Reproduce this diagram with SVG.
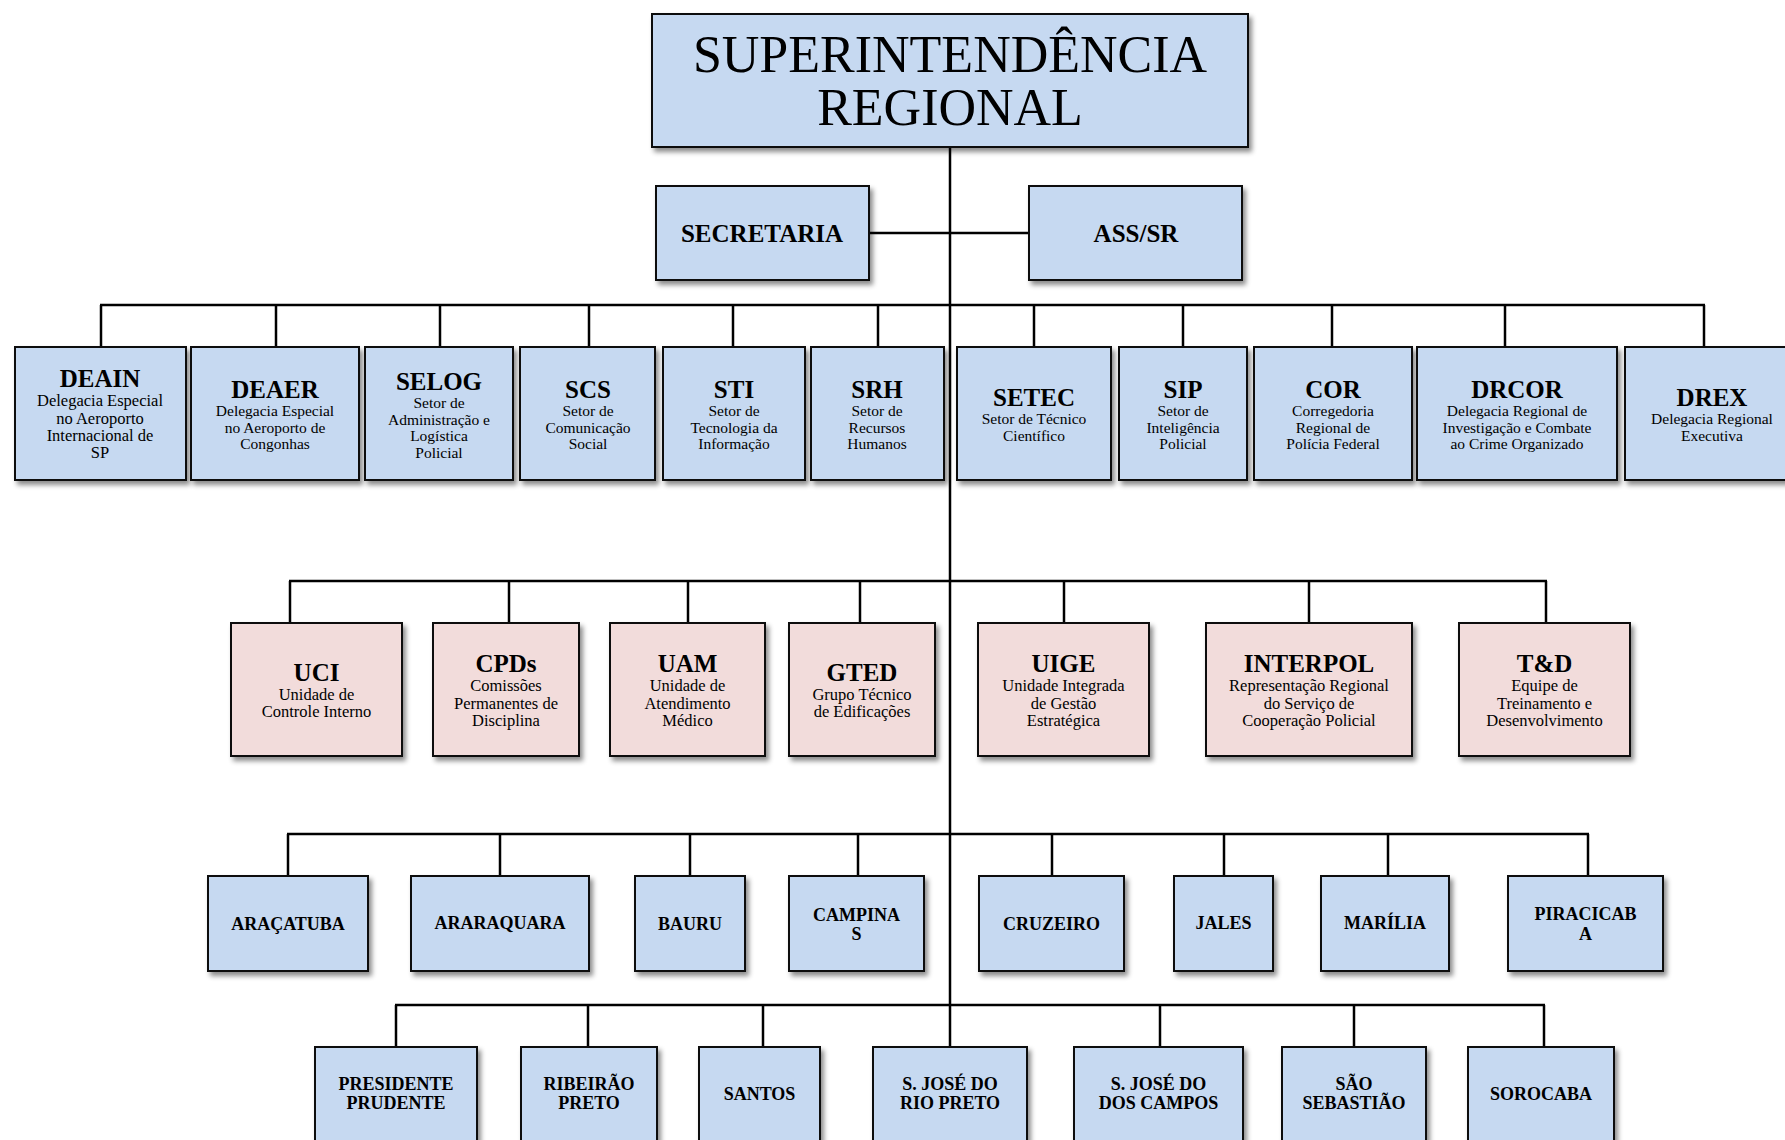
<svg xmlns="http://www.w3.org/2000/svg" width="1785" height="1140" viewBox="0 0 1785 1140">
<defs>
<filter id="sh" x="-10%" y="-10%" width="130%" height="130%">
<feDropShadow dx="3" dy="4" stdDeviation="2.5" flood-color="#000" flood-opacity="0.45"/>
</filter>
</defs>
<style>
text{font-family:"Liberation Serif","Times New Roman",serif;fill:#000;text-anchor:middle}
.b{fill:#C6D9F1;stroke:#111;stroke-width:2;filter:url(#sh)}
.p{fill:#F2DCDB;stroke:#111;stroke-width:2;filter:url(#sh)}
.t{font-weight:bold;font-size:25px}
.s{font-size:15.5px}
.s2{font-size:16.5px}
.c{font-weight:bold;font-size:18px}
.big{font-size:52px}
.con line{stroke:#000;stroke-width:2.5}
</style>
<rect width="1785" height="1140" fill="#fff"/>
<g class="con">
<line x1="950" y1="147" x2="950" y2="1047"/>
<line x1="869" y1="233" x2="1029" y2="233"/>
<line x1="100" y1="305" x2="1705" y2="305"/>
<line x1="101" y1="305" x2="101" y2="347"/>
<line x1="276" y1="305" x2="276" y2="347"/>
<line x1="440" y1="305" x2="440" y2="347"/>
<line x1="589" y1="305" x2="589" y2="347"/>
<line x1="733" y1="305" x2="733" y2="347"/>
<line x1="878" y1="305" x2="878" y2="347"/>
<line x1="1034" y1="305" x2="1034" y2="347"/>
<line x1="1183" y1="305" x2="1183" y2="347"/>
<line x1="1332" y1="305" x2="1332" y2="347"/>
<line x1="1505" y1="305" x2="1505" y2="347"/>
<line x1="1704" y1="305" x2="1704" y2="347"/>
<line x1="289" y1="581" x2="1547" y2="581"/>
<line x1="290" y1="581" x2="290" y2="623"/>
<line x1="509" y1="581" x2="509" y2="623"/>
<line x1="688" y1="581" x2="688" y2="623"/>
<line x1="860" y1="581" x2="860" y2="623"/>
<line x1="1064" y1="581" x2="1064" y2="623"/>
<line x1="1309" y1="581" x2="1309" y2="623"/>
<line x1="1546" y1="581" x2="1546" y2="623"/>
<line x1="287" y1="834" x2="1589" y2="834"/>
<line x1="288" y1="834" x2="288" y2="876"/>
<line x1="500" y1="834" x2="500" y2="876"/>
<line x1="690" y1="834" x2="690" y2="876"/>
<line x1="858" y1="834" x2="858" y2="876"/>
<line x1="1052" y1="834" x2="1052" y2="876"/>
<line x1="1224" y1="834" x2="1224" y2="876"/>
<line x1="1388" y1="834" x2="1388" y2="876"/>
<line x1="1588" y1="834" x2="1588" y2="876"/>
<line x1="395" y1="1005" x2="1545" y2="1005"/>
<line x1="396" y1="1005" x2="396" y2="1047"/>
<line x1="588" y1="1005" x2="588" y2="1047"/>
<line x1="763" y1="1005" x2="763" y2="1047"/>
<line x1="1160" y1="1005" x2="1160" y2="1047"/>
<line x1="1354" y1="1005" x2="1354" y2="1047"/>
<line x1="1544" y1="1005" x2="1544" y2="1047"/>
</g>

<g id="sr"><rect class="b" x="652" y="14" width="596" height="133"/>
<text class="big" x="950" y="72">SUPERINTENDÊNCIA</text><text class="big" x="950" y="125">REGIONAL</text></g>
<g id="secretaria"><rect class="b" x="656" y="186" width="213" height="94"/><text class="t" x="762" y="242">SECRETARIA</text></g>
<g id="asssr"><rect class="b" x="1029" y="186" width="213" height="94"/><text class="t" x="1136" y="242">ASS/SR</text></g>

<g id="deain"><rect class="b" x="15" y="347" width="171" height="133"/>
<text class="t" x="100" y="387">DEAIN</text>
<text class="s2" x="100" y="406">Delegacia Especial</text><text class="s2" x="100" y="423.5">no Aeroporto</text><text class="s2" x="100" y="441">Internacional de</text><text class="s2" x="100" y="458">SP</text></g>
<g id="deaer"><rect class="b" x="191" y="347" width="168" height="133"/>
<text class="t" x="275" y="398">DEAER</text>
<text class="s" x="275" y="416">Delegacia Especial</text><text class="s" x="275" y="432.5">no Aeroporto de</text><text class="s" x="275" y="449">Congonhas</text></g>
<g id="selog"><rect class="b" x="365" y="347" width="148" height="133"/>
<text class="t" x="439" y="390">SELOG</text>
<text class="s" x="439" y="408">Setor de</text><text class="s" x="439" y="424.5">Administração e</text><text class="s" x="439" y="441">Logística</text><text class="s" x="439" y="457.5">Policial</text></g>
<g id="scs"><rect class="b" x="520" y="347" width="135" height="133"/>
<text class="t" x="588" y="398">SCS</text>
<text class="s" x="588" y="416">Setor de</text><text class="s" x="588" y="432.5">Comunicação</text><text class="s" x="588" y="449">Social</text></g>
<g id="sti"><rect class="b" x="663" y="347" width="142" height="133"/>
<text class="t" x="734" y="398">STI</text>
<text class="s" x="734" y="416">Setor de</text><text class="s" x="734" y="432.5">Tecnologia da</text><text class="s" x="734" y="449">Informação</text></g>
<g id="srh"><rect class="b" x="811" y="347" width="133" height="133"/>
<text class="t" x="877" y="398">SRH</text>
<text class="s" x="877" y="416">Setor de</text><text class="s" x="877" y="432.5">Recursos</text><text class="s" x="877" y="449">Humanos</text></g>
<g id="setec"><rect class="b" x="957" y="347" width="154" height="133"/>
<text class="t" x="1034" y="406">SETEC</text>
<text class="s" x="1034" y="424">Setor de Técnico</text><text class="s" x="1034" y="440.5">Científico</text></g>
<g id="sip"><rect class="b" x="1119" y="347" width="128" height="133"/>
<text class="t" x="1183" y="398">SIP</text>
<text class="s" x="1183" y="416">Setor de</text><text class="s" x="1183" y="432.5">Inteligência</text><text class="s" x="1183" y="449">Policial</text></g>
<g id="cor"><rect class="b" x="1254" y="347" width="158" height="133"/>
<text class="t" x="1333" y="398">COR</text>
<text class="s" x="1333" y="416">Corregedoria</text><text class="s" x="1333" y="432.5">Regional de</text><text class="s" x="1333" y="449">Polícia Federal</text></g>
<g id="drcor"><rect class="b" x="1417" y="347" width="200" height="133"/>
<text class="t" x="1517" y="398">DRCOR</text>
<text class="s" x="1517" y="416">Delegacia Regional de</text><text class="s" x="1517" y="432.5">Investigação e Combate</text><text class="s" x="1517" y="449">ao Crime Organizado</text></g>
<g id="drex"><rect class="b" x="1625" y="347" width="175" height="133"/>
<text class="t" x="1712" y="406">DREX</text>
<text class="s" x="1712" y="424">Delegacia Regional</text><text class="s" x="1712" y="440.5">Executiva</text></g>

<g id="uci"><rect class="p" x="231" y="623" width="171" height="133"/>
<text class="t" x="316.5" y="681">UCI</text>
<text class="s2" x="316.5" y="700">Unidade de</text><text class="s2" x="316.5" y="717">Controle Interno</text></g>
<g id="cpds"><rect class="p" x="433" y="623" width="146" height="133"/>
<text class="t" x="506" y="672">CPDs</text>
<text class="s2" x="506" y="691">Comissões</text><text class="s2" x="506" y="708.5">Permanentes de</text><text class="s2" x="506" y="726">Disciplina</text></g>
<g id="uam"><rect class="p" x="610" y="623" width="155" height="133"/>
<text class="t" x="687.5" y="672">UAM</text>
<text class="s2" x="687.5" y="691">Unidade de</text><text class="s2" x="687.5" y="708.5">Atendimento</text><text class="s2" x="687.5" y="726">Médico</text></g>
<g id="gted"><rect class="p" x="789" y="623" width="146" height="133"/>
<text class="t" x="862" y="681">GTED</text>
<text class="s2" x="862" y="700">Grupo Técnico</text><text class="s2" x="862" y="717">de Edificações</text></g>
<g id="uige"><rect class="p" x="978" y="623" width="171" height="133"/>
<text class="t" x="1063.5" y="672">UIGE</text>
<text class="s2" x="1063.5" y="691">Unidade Integrada</text><text class="s2" x="1063.5" y="708.5">de Gestão</text><text class="s2" x="1063.5" y="726">Estratégica</text></g>
<g id="interpol"><rect class="p" x="1206" y="623" width="206" height="133"/>
<text class="t" x="1309" y="672">INTERPOL</text>
<text class="s2" x="1309" y="691">Representação Regional</text><text class="s2" x="1309" y="708.5">do Serviço de</text><text class="s2" x="1309" y="726">Cooperação Policial</text></g>
<g id="td"><rect class="p" x="1459" y="623" width="171" height="133"/>
<text class="t" x="1544.5" y="672">T&amp;D</text>
<text class="s2" x="1544.5" y="691">Equipe de</text><text class="s2" x="1544.5" y="708.5">Treinamento e</text><text class="s2" x="1544.5" y="726">Desenvolvimento</text></g>

<g id="aracatuba"><rect class="b" x="208" y="876" width="160" height="95"/><text class="c" x="288" y="930">ARAÇATUBA</text></g>
<g id="araraquara"><rect class="b" x="411" y="876" width="178" height="95"/><text class="c" x="500" y="929">ARARAQUARA</text></g>
<g id="bauru"><rect class="b" x="635" y="876" width="110" height="95"/><text class="c" x="690" y="930">BAURU</text></g>
<g id="campinas"><rect class="b" x="789" y="876" width="135" height="95"/><text class="c" x="856.5" y="921">CAMPINA</text><text class="c" x="856.5" y="940">S</text></g>
<g id="cruzeiro"><rect class="b" x="979" y="876" width="145" height="95"/><text class="c" x="1051.5" y="930">CRUZEIRO</text></g>
<g id="jales"><rect class="b" x="1174" y="876" width="99" height="95"/><text class="c" x="1223.5" y="929">JALES</text></g>
<g id="marilia"><rect class="b" x="1321" y="876" width="128" height="95"/><text class="c" x="1385" y="929">MARÍLIA</text></g>
<g id="piracicaba"><rect class="b" x="1508" y="876" width="155" height="95"/><text class="c" x="1585.5" y="920">PIRACICAB</text><text class="c" x="1585.5" y="940">A</text></g>

<g id="presidente"><rect class="b" x="315" y="1047" width="162" height="110"/><text class="c" x="396" y="1090">PRESIDENTE</text><text class="c" x="396" y="1109">PRUDENTE</text></g>
<g id="ribeirao"><rect class="b" x="521" y="1047" width="136" height="110"/><text class="c" x="589" y="1090">RIBEIRÃO</text><text class="c" x="589" y="1109">PRETO</text></g>
<g id="santos"><rect class="b" x="699" y="1047" width="121" height="110"/><text class="c" x="759.5" y="1100">SANTOS</text></g>
<g id="sjrp"><rect class="b" x="873" y="1047" width="154" height="110"/><text class="c" x="950" y="1090">S. JOSÉ DO</text><text class="c" x="950" y="1109">RIO PRETO</text></g>
<g id="sjc"><rect class="b" x="1074" y="1047" width="169" height="110"/><text class="c" x="1158.5" y="1090">S. JOSÉ DO</text><text class="c" x="1158.5" y="1109">DOS CAMPOS</text></g>
<g id="saosebastiao"><rect class="b" x="1282" y="1047" width="144" height="110"/><text class="c" x="1354" y="1090">SÃO</text><text class="c" x="1354" y="1109">SEBASTIÃO</text></g>
<g id="sorocaba"><rect class="b" x="1468" y="1047" width="146" height="110"/><text class="c" x="1541" y="1100">SOROCABA</text></g>
</svg>
